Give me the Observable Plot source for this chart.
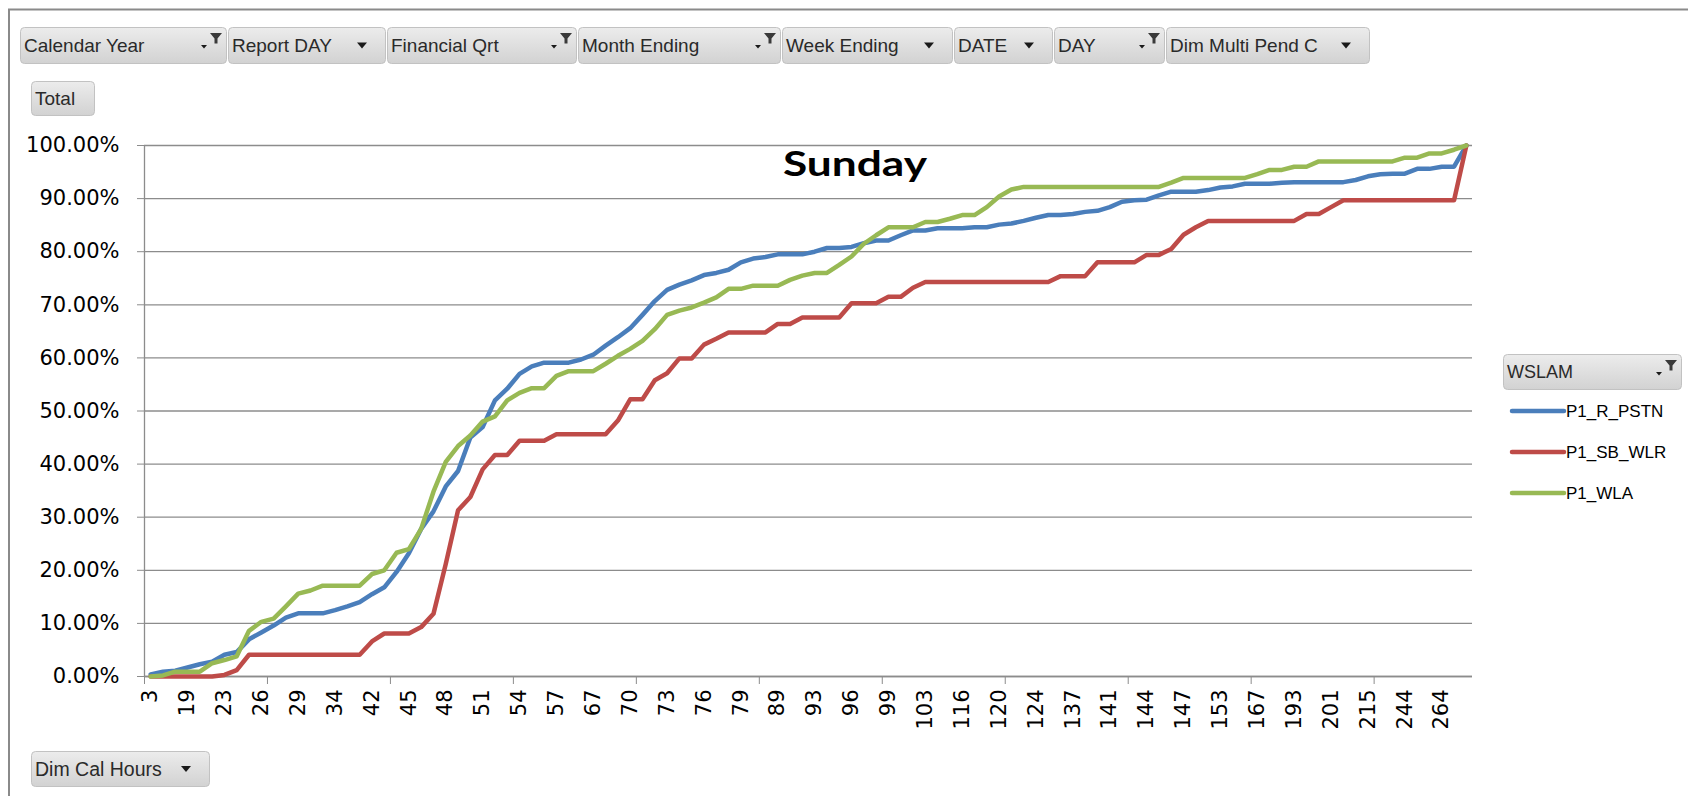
<!DOCTYPE html>
<html><head><meta charset="utf-8">
<script src="https://cdn.jsdelivr.net/npm/d3@7"></script>
<script src="https://cdn.jsdelivr.net/npm/@observablehq/plot@0.6"></script>
<style>
html,body{margin:0;padding:0;background:#fff;}
#wrap{position:relative;width:1688px;height:796px;overflow:hidden;background:#fff;}
#wrap svg{position:absolute;left:0;top:0;}
</style></head><body><div id="wrap"></div>
<script>
// ---- data (cumulative % by Dim Cal Hours category) ----
const xLabels = ["3","19","23","26","29","34","42","45","48","51","54","57","67","70","73","76","79","89",
  "93","96","99","103","116","120","124","137","141","144","147","153","167","193","201","215","244","264"];
const labelEvery = 3;
const seriesNames = ["P1_R_PSTN", "P1_SB_WLR", "P1_WLA"];
const seriesColors = ["#4a7ebb", "#be4b48", "#98b954"];
const chartTitle = "Sunday";
const legendTitle = "WSLAM";
const yTicks = [0, 0.1, 0.2, 0.3, 0.4, 0.5, 0.6, 0.7, 0.8, 0.9, 1];

const pRPSTN = [
  0.4, 0.9, 1.1, 1.7, 2.3, 2.8, 4.1, 4.6, 7.0, 8.3,
  9.6, 11.1, 11.9, 11.9, 11.9, 12.5, 13.2, 14.0, 15.5, 16.8,
  19.7, 23.2, 27.8, 31.1, 35.8, 38.7, 45.0, 47.0, 52.0, 54.2,
  57.0, 58.4, 59.1, 59.1, 59.1, 59.7, 60.6, 62.3, 63.9, 65.6,
  68.1, 70.7, 72.8, 73.8, 74.6, 75.6, 76.0, 76.6, 78.0, 78.7,
  79.0, 79.5, 79.5, 79.5, 80.0, 80.7, 80.7, 80.9, 81.6, 82.1,
  82.1, 83.1, 84.0, 84.0, 84.4, 84.4, 84.4, 84.6, 84.6, 85.1,
  85.3, 85.8, 86.4, 86.9, 86.9, 87.1, 87.5, 87.7, 88.4, 89.4,
  89.7, 89.8, 90.6, 91.3, 91.3, 91.3, 91.6, 92.1, 92.3, 92.8,
  92.8, 92.8, 93.0, 93.1, 93.1, 93.1, 93.1, 93.1, 93.5, 94.2,
  94.6, 94.7, 94.7, 95.6, 95.6, 96.0, 96.0, 100
];
const pSBWLR = [
  0, 0, 0, 0, 0, 0, 0.3, 1.2, 4.1, 4.1,
  4.1, 4.1, 4.1, 4.1, 4.1, 4.1, 4.1, 4.1, 6.6, 8.1,
  8.1, 8.1, 9.3, 11.8, 21.2, 31.3, 33.8, 39.0, 41.7, 41.7,
  44.4, 44.4, 44.4, 45.6, 45.6, 45.6, 45.6, 45.6, 48.2, 52.2,
  52.2, 55.8, 57.1, 59.9, 59.9, 62.5, 63.6, 64.8, 64.8, 64.8,
  64.8, 66.4, 66.4, 67.6, 67.6, 67.6, 67.6, 70.3, 70.3, 70.3,
  71.5, 71.5, 73.2, 74.3, 74.3, 74.3, 74.3, 74.3, 74.3, 74.3,
  74.3, 74.3, 74.3, 74.3, 75.4, 75.4, 75.4, 78.0, 78.0, 78.0,
  78.0, 79.4, 79.4, 80.5, 83.2, 84.6, 85.8, 85.8, 85.8, 85.8,
  85.8, 85.8, 85.8, 85.8, 87.1, 87.1, 88.4, 89.7, 89.7, 89.7,
  89.7, 89.7, 89.7, 89.7, 89.7, 89.7, 89.7, 100
];
const pWLA = [
  0, 0.2, 0.9, 0.9, 0.9, 2.5, 3.1, 3.8, 8.6, 10.3,
  10.9, 13.2, 15.6, 16.2, 17.1, 17.1, 17.1, 17.1, 19.3, 20.0,
  23.3, 24.0, 27.8, 34.8, 40.4, 43.4, 45.4, 48.0, 49.0, 52.0,
  53.4, 54.3, 54.3, 56.6, 57.5, 57.5, 57.5, 58.9, 60.4, 61.7,
  63.2, 65.4, 68.1, 68.9, 69.5, 70.4, 71.4, 73.0, 73.0, 73.6,
  73.6, 73.6, 74.7, 75.5, 76.0, 76.0, 77.5, 79.1, 81.5, 83.1,
  84.6, 84.6, 84.6, 85.6, 85.6, 86.2, 86.9, 86.9, 88.4, 90.4,
  91.7, 92.2, 92.2, 92.2, 92.2, 92.2, 92.2, 92.2, 92.2, 92.2,
  92.2, 92.2, 92.2, 93.0, 93.9, 93.9, 93.9, 93.9, 93.9, 93.9,
  94.6, 95.4, 95.4, 96.0, 96.0, 97.0, 97.0, 97.0, 97.0, 97.0,
  97.0, 97.0, 97.7, 97.7, 98.5, 98.5, 99.2, 100
];

const filterButtons = [
  {label: "Calendar Year", icon: "filter"},
  {label: "Report DAY", icon: "arrow"},
  {label: "Financial Qrt", icon: "filter"},
  {label: "Month Ending", icon: "filter"},
  {label: "Week Ending", icon: "arrow"},
  {label: "DATE", icon: "arrow"},
  {label: "DAY", icon: "filter"},
  {label: "Dim Multi Pend C", icon: "arrow"}
];
const buttonEdges = [20, 228, 387, 578, 782, 954, 1054, 1166, 1371];

// ---- build table ----
const seriesValues = [pRPSTN, pSBWLR, pWLA];
const nCat = pRPSTN.length;
const rows = seriesValues.flatMap((vals, s) =>
  vals.map((v, i) => ({series: seriesNames[s], pos: i + 0.5, value: v / 100})));
const labelTicks = xLabels.map((_, k) => k * labelEvery + 0.5);
const boundaryTicks = d3.range(0, nCat, 10);

const chart = Plot.plot({
  width: 1688, height: 796,
  marginLeft: 144, marginRight: 216, marginTop: 145, marginBottom: 120,
  x: {domain: [0, nCat]},
  y: {domain: [0, 1]},
  color: {domain: seriesNames, range: seriesColors},
  style: {fontFamily: "DejaVu Sans", fontSize: "21px", color: "#000", background: "transparent", overflow: "visible"},
  marks: [
    Plot.gridY(yTicks, {stroke: "#8c8c8c", strokeOpacity: 1, strokeWidth: 1.3}),
    Plot.axisY(yTicks, {tickFormat: d3.format(".2%"), tickSize: 7, tickPadding: 18, stroke: "#8c8c8c", fill: "#000", fontSize: 21, label: null}),
    Plot.axisX(boundaryTicks, {tickFormat: () => "", tickSize: 8, stroke: "#8c8c8c", label: null}),
    Plot.axisX(labelTicks, {tickFormat: d => xLabels[Math.round((d - 0.5) / labelEvery)], tickRotate: -90, tickSize: 0, tickPadding: 13, fill: "#000", fontSize: 21, label: null}),
    Plot.ruleX([0], {stroke: "#8c8c8c", strokeWidth: 1.3}),
    Plot.ruleY([0], {stroke: "#8c8c8c", strokeWidth: 1.3}),
    Plot.line(rows, {x: "pos", y: "value", z: "series", stroke: "series", strokeWidth: 4.5, strokeLinejoin: "round", strokeLinecap: "round"})
  ]
});
const wrap = document.getElementById("wrap");
wrap.appendChild(chart);

// ---- overlay: frame, pivot buttons, title, legend ----
const svg = d3.select(wrap).append("svg")
  .attr("width", 1688).attr("height", 796)
  .style("font-family", "Liberation Sans");
const defs = svg.append("defs");
const g = defs.append("linearGradient").attr("id", "btn").attr("x1", 0).attr("y1", 0).attr("x2", 0).attr("y2", 1);
g.append("stop").attr("offset", "0%").attr("stop-color", "#ececec");
g.append("stop").attr("offset", "100%").attr("stop-color", "#d2d2d2");

svg.append("path").attr("d", "M9,796 V9.5 H1688").attr("fill", "none").attr("stroke", "#8a8a8a").attr("stroke-width", 2);

function drawButton(x0, x1, y0, y1, label, icon, fs) {
  const b = svg.append("g");
  b.append("rect").attr("x", x0 + 0.5).attr("y", y0 + 0.5).attr("width", x1 - x0 - 1).attr("height", y1 - y0 - 1)
    .attr("rx", 4).attr("fill", "url(#btn)").attr("stroke", "#c2c2c2");
  const cy = (y0 + y1) / 2;
  b.append("text").attr("x", x0 + 4).attr("y", cy + fs * 0.36).attr("font-size", fs).attr("fill", "#2a2a2a").text(label);
  if (icon === "arrow") {
    const cx = x1 - 24;
    b.append("path").attr("d", `M${cx - 5},${cy - 3} h10 l-5,6 z`).attr("fill", "#1a1a1a");
  } else if (icon === "filter") {
    const fx = x1 - 17, fy = y0 + 6;
    b.append("path").attr("d", `M${fx},${fy} h12 l-4.5,5.5 v5 h-3 v-5 z`).attr("fill", "#3a3a3a");
    b.append("path").attr("d", `M${fx - 9},${fy + 12} h6 l-3,3.5 z`).attr("fill", "#1a1a1a");
  }
}
filterButtons.forEach((d, k) => drawButton(buttonEdges[k], buttonEdges[k + 1] - 1, 27, 64, d.label, d.icon, 19));
drawButton(31, 95, 81, 116, "Total", null, 19);
drawButton(31, 210, 751, 787, "Dim Cal Hours", "arrow", 19.5);

// title
svg.append("text").attr("x", 855).attr("y", 176).attr("text-anchor", "middle")
  .attr("font-family", "Lato").attr("font-weight", 700).attr("font-size", 35)
  .attr("textLength", 144).attr("lengthAdjust", "spacingAndGlyphs").attr("fill", "#000").text(chartTitle);

// legend
drawButton(1503, 1682, 354, 390, legendTitle, "filter", 18);
const legendY = [411, 452, 493];
seriesNames.forEach((name, s) => {
  svg.append("line").attr("x1", 1512).attr("x2", 1564).attr("y1", legendY[s]).attr("y2", legendY[s])
    .attr("stroke", seriesColors[s]).attr("stroke-width", 4.5).attr("stroke-linecap", "round");
  svg.append("text").attr("x", 1566).attr("y", legendY[s] + 6).attr("font-size", 17).attr("fill", "#000").text(name);
});
</script></body></html>
